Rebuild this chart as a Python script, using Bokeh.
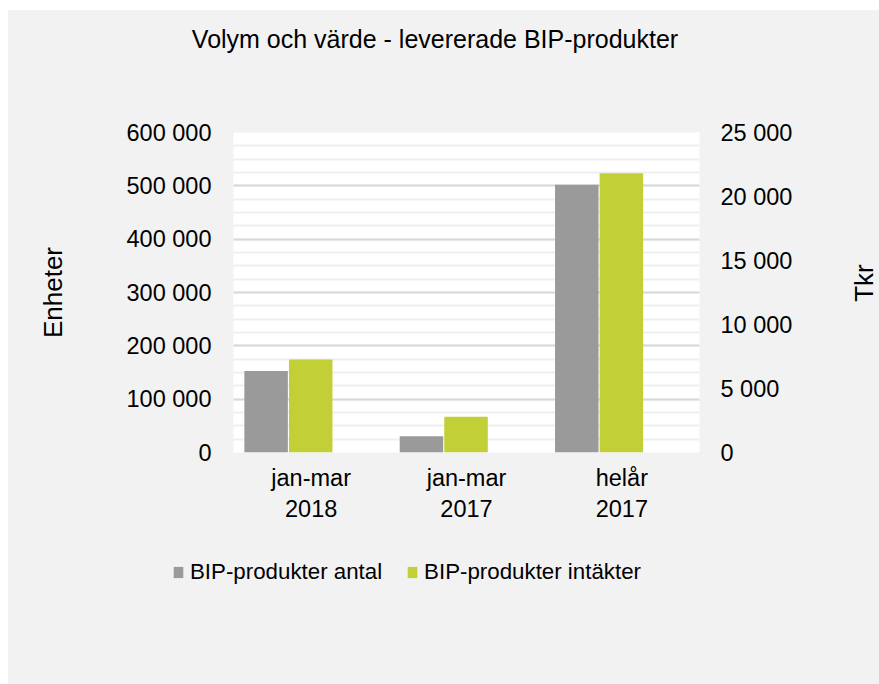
import math
from bokeh.plotting import figure
from bokeh.models import (Range1d, LinearAxis, SingleIntervalTicker, CustomJSTickFormatter,
                          Legend, LegendItem, ColumnDataSource, Spacer, Label, FactorRange)
from bokeh.layouts import row, column
from bokeh.transform import dodge
from bokeh.embed import file_html
from bokeh.resources import INLINE

categories = ["jan-mar\n2018", "jan-mar\n2017", "helår\n2017"]
antal = [153000, 30500, 502000]
intakter = [7270, 2790, 21820]

title_text = "Volym och värde - levererade BIP-produkter"
left_label = "Enheter"
right_label = "Tkr"
series_names = ["BIP-produkter antal", "BIP-produkter intäkter"]
colors = ["#9a9a9a", "#c2cf36"]
FONT = "Liberation Sans"
BG = "#f2f2f2"
W = 871
MH = 450   # main chart height
RW = 30    # strip for the right-hand axis title


def blank_strip(width, height, x_range, y_range):
    f = figure(width=width, height=height, output_backend="svg", toolbar_location=None,
               x_range=x_range, y_range=y_range,
               min_border=0, x_axis_type=None, y_axis_type=None)
    f.frame_align = False
    f.background_fill_color = BG
    f.border_fill_color = BG
    f.outline_line_color = None
    f.grid.visible = False
    return f


# ---------- title strip ----------
TH = 80
pt = blank_strip(W, TH, Range1d(0, W), Range1d(0, TH))
pt.add_layout(Label(x=426.5, y=52, text=title_text, text_align="center",
                    text_baseline="alphabetic", text_font=FONT, text_font_size="25px",
                    text_color="black"))

# ---------- main chart ----------
src = ColumnDataSource(dict(cat=categories, antal=antal, intakter=intakter))

p = figure(x_range=categories, y_range=Range1d(0, 600000),
           width=W - RW, height=MH, output_backend="svg", toolbar_location=None,
           min_border_left=225, min_border_right=W - RW - 225 - 466,
           min_border_top=42, min_border_bottom=88)
p.extra_y_ranges = {"tkr": Range1d(0, 25000)}

p.background_fill_color = "white"
p.border_fill_color = BG
p.outline_line_color = None

r1 = p.vbar(x=dodge("cat", -0.29, range=p.x_range), top="antal", width=0.28, source=src,
            fill_color=colors[0], line_color=None)
r2 = p.vbar(x=dodge("cat", -0.003, range=p.x_range), top="intakter", width=0.28, source=src,
            fill_color=colors[1], line_color=None, y_range_name="tkr")

fmt = CustomJSTickFormatter(code=r"""return Math.round(tick).toString().replace(/\B(?=(\d{3})+(?!\d))/g, " ");""")

def style_axis(ax):
    ax.axis_line_color = None
    ax.major_tick_line_color = None
    ax.minor_tick_line_color = None
    ax.major_tick_out = 0
    ax.major_tick_in = 0
    ax.minor_tick_out = 0
    ax.minor_tick_in = 0
    ax.major_label_text_font = FONT
    ax.major_label_text_font_size = "23.5px"
    ax.major_label_text_color = "black"
    ax.axis_label_text_font = FONT
    ax.axis_label_text_font_size = "26px"
    ax.axis_label_text_font_style = "normal"
    ax.axis_label_text_color = "black"

yax = p.yaxis[0]
yax.ticker = SingleIntervalTicker(interval=100000, num_minor_ticks=4)
yax.formatter = fmt
yax.axis_label = left_label
style_axis(yax)
yax.major_label_standoff = 22
yax.axis_label_standoff = 56

rax = LinearAxis(y_range_name="tkr", ticker=SingleIntervalTicker(interval=5000, num_minor_ticks=0),
                 formatter=fmt)
style_axis(rax)
rax.major_label_standoff = 21
p.add_layout(rax, "right")

xax = p.xaxis[0]
style_axis(xax)
xax.major_label_standoff = 12

p.xgrid.grid_line_color = None
p.ygrid.grid_line_color = "#d9d9d9"
p.ygrid.grid_line_width = 2
p.ygrid.minor_grid_line_color = "#efefef"
p.ygrid.minor_grid_line_width = 2

# ---------- right axis title strip ----------
pr = blank_strip(RW, MH, Range1d(0, RW), Range1d(0, MH))
pr.add_layout(Label(x=14, y=257.5, text=right_label, angle=math.pi / 2,
                    text_align="center", text_baseline="alphabetic",
                    text_font=FONT, text_font_size="26px", text_color="black"))

# ---------- legend strip ----------
LH = 144
pl = blank_strip(W, LH, FactorRange(*categories), Range1d(0, 1))
# hidden copies of the series, used only to draw the legend swatches
d1 = pl.vbar(x="cat", top="antal", width=0.28, source=src,
             fill_color=colors[0], line_color=None, visible=False)
d2 = pl.vbar(x="cat", top="intakter", width=0.28, source=src,
             fill_color=colors[1], line_color=None, visible=False)

legend = Legend(items=[LegendItem(label=series_names[0], renderers=[d1]),
                       LegendItem(label=series_names[1], renderers=[d2])],
                orientation="horizontal", location=(164, 99))
legend.glyph_width = 12
legend.glyph_height = 14
legend.label_height = 26
legend.label_standoff = 6
legend.spacing = 24
legend.padding = 0
legend.margin = 0
legend.background_fill_alpha = 0
legend.border_line_alpha = 0
legend.label_text_font = FONT
legend.label_text_font_size = "22.3px"
legend.label_text_color = "black"
legend.click_policy = "none"
pl.add_layout(legend)

inner = column(pt, row(p, pr, spacing=0), pl, spacing=0, styles={"background-color": BG})
layout = row(Spacer(width=8), column(Spacer(height=10), inner, spacing=0), spacing=0)

open("out.html", "w").write(file_html(layout, INLINE))
